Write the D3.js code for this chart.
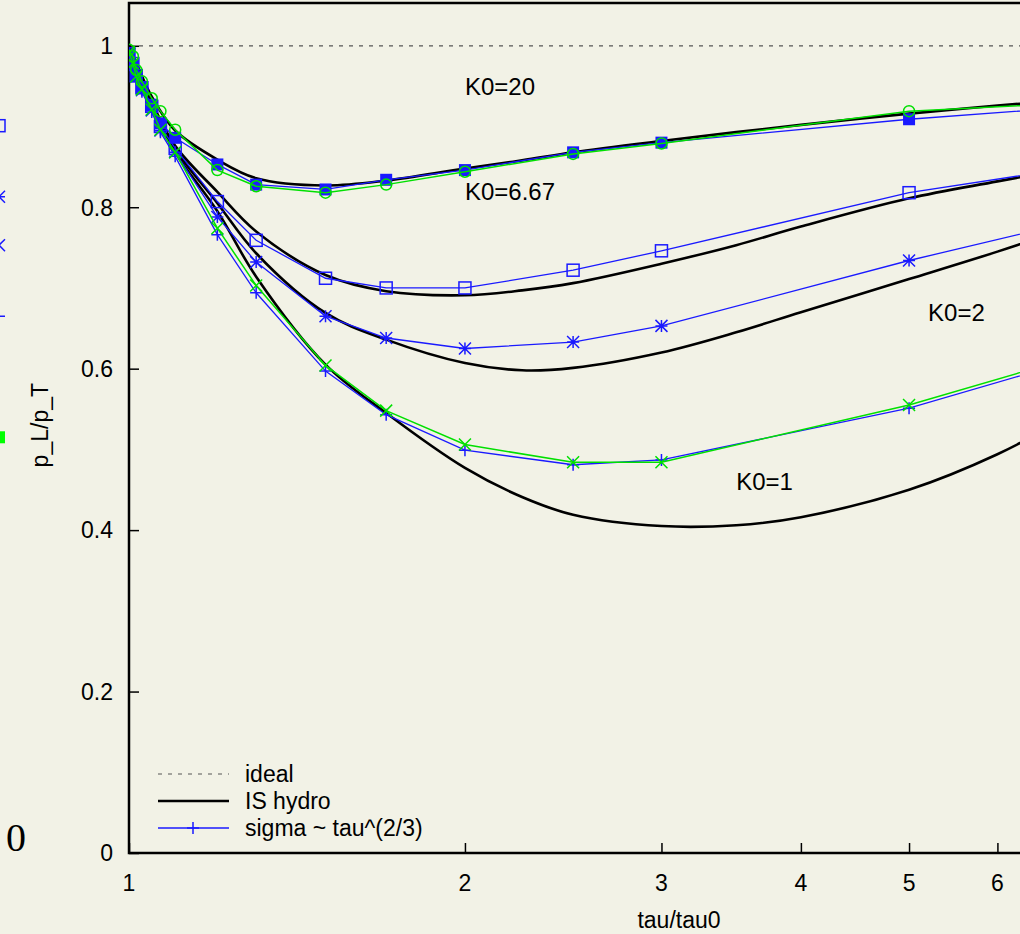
<!DOCTYPE html>
<html>
<head>
<meta charset="utf-8">
<script src="https://cdn.jsdelivr.net/npm/d3@7"></script>
<style>
  html, body { margin: 0; padding: 0; background: #f2f2e6; }
  svg { display: block; font-family: "Liberation Sans", Arial, sans-serif; }
</style>
</head>
<body>
<div id="chart-container"></div>
<script>
{ // start block scope

// tau/tau0 grid of the transport (sigma ~ tau^(2/3)) runs
const tau = [1, 1.008, 1.015, 1.027, 1.048, 1.067, 1.1, 1.2, 1.3, 1.5, 1.7, 2, 2.5, 3, 5, 7];
const sigmaK20 = [0.988, 0.976, 0.962, 0.948, 0.927, 0.904, 0.886, 0.853, 0.828, 0.822, 0.834, 0.846, 0.868, 0.880, 0.909, 0.924];
const sigmaK667 = [0.99, 0.978, 0.963, 0.948, 0.925, 0.90, 0.873, 0.807, 0.759, 0.712, 0.700, 0.700, 0.722, 0.746, 0.818, 0.849];
const sigmaK2 = [0.99, 0.977, 0.962, 0.945, 0.92, 0.895, 0.868, 0.788, 0.732, 0.665, 0.638, 0.625, 0.633, 0.653, 0.734, 0.782];
const sigmaK1 = [0.99, 0.975, 0.96, 0.943, 0.918, 0.893, 0.863, 0.766, 0.694, 0.597, 0.543, 0.499, 0.481, 0.487, 0.551, 0.610];
// green runs (same tau grid)
const greenK20 = [0.995, 0.987, 0.970, 0.956, 0.935, 0.919, 0.896, 0.846, 0.826, 0.818, 0.828, 0.844, 0.866, 0.879, 0.919, 0.929];
const greenK1 = [0.992, 0.978, 0.962, 0.946, 0.921, 0.896, 0.868, 0.774, 0.703, 0.604, 0.548, 0.506, 0.484, 0.484, 0.555, 0.614];

// IS hydro curves
const hydroTau = [1, 1.02, 1.05, 1.1, 1.2, 1.3, 1.5, 1.7, 2, 2.25, 2.5, 3, 3.5, 4, 5, 6, 7];
const hydroK20 = [1.0, 0.972, 0.935, 0.895, 0.859, 0.836, 0.827, 0.833, 0.848, 0.858, 0.868, 0.882, 0.893, 0.902, 0.916, 0.926, 0.933];
const hydroK667 = [1.0, 0.968, 0.928, 0.876, 0.819, 0.770, 0.716, 0.696, 0.691, 0.697, 0.706, 0.730, 0.753, 0.776, 0.811, 0.832, 0.849];
const hydroK2 = [1.0, 0.967, 0.926, 0.872, 0.805, 0.743, 0.669, 0.636, 0.607, 0.598, 0.601, 0.620, 0.645, 0.670, 0.711, 0.745, 0.776];
const hydroK1 = [1.0, 0.966, 0.922, 0.868, 0.795, 0.714, 0.605, 0.545, 0.477, 0.441, 0.419, 0.405, 0.406, 0.416, 0.450, 0.494, 0.543];

const xTicks = [1, 2, 3, 4, 5, 6];
const yTicks = [0, 0.2, 0.4, 0.6, 0.8, 1];
const legendLabels = ["ideal", "IS hydro", "sigma ~ tau^(2/3)"];
const curveLabels = [
  { text: "K0=20", tau: 2, y: 0.95 },
  { text: "K0=6.67", tau: 2, y: 0.82 },
  { text: "K0=2", tau: 5.2, y: 0.67 },
  { text: "K0=1", tau: 3.5, y: 0.46 }
];
// stray points of the neighbouring panel, cut at the left border
const neighbourPoints = [
  { y: 0.901, shape: "openSquare", color: "blue" },
  { y: 0.813, shape: "star", color: "blue" },
  { y: 0.753, shape: "cross", color: "blue" },
  { y: 0.665, shape: "plus", color: "blue" },
  { y: 0.515, shape: "filledSquare", color: "green" }
];

const color = {
  bg: "#f2f2e6",
  blue: "#1a1aff",
  green: "#00e000",
  black: "#000000",
  grey: "#555555"
};

const totalWidth = 1020;
const totalHeight = 934;
const plot = { left: 129, top: 3, bottom: 853, right: 1245 };

const svg = d3.select('#chart-container')
  .append('svg')
  .attr('width', totalWidth)
  .attr('height', totalHeight)
  .style('background', color.bg);

// scales
const xScale = d3.scaleLog()
  .domain([1, 10])
  .range([plot.left, plot.right]);
const yScale = d3.scaleLinear()
  .domain([0, 1.053])
  .range([plot.bottom, plot.top]);

svg.append('clipPath')
  .attr('id', 'plot-clip')
  .append('rect')
  .attr('x', plot.left)
  .attr('y', plot.top)
  .attr('width', plot.right - plot.left)
  .attr('height', plot.bottom - plot.top);

// axes, ticks pointing inwards
const xAxis = d3.axisTop(xScale)
  .tickValues(xTicks)
  .tickSize(10)
  .tickSizeOuter(0)
  .tickFormat('');
const xAxisGroup = svg.append('g')
  .attr('transform', `translate(0, ${plot.bottom})`)
  .call(xAxis);
xAxisGroup.selectAll('.tick line').attr('stroke-width', 1.5);
xAxisGroup.select('.domain').remove();

svg.append('g')
  .selectAll('text')
  .data(xTicks)
  .enter()
  .append('text')
  .attr('x', d => xScale(d))
  .attr('y', plot.bottom + 38)
  .attr('text-anchor', 'middle')
  .attr('font-size', 23)
  .text(d => d);

const yAxis = d3.axisRight(yScale)
  .tickValues(yTicks)
  .tickSize(10)
  .tickSizeOuter(0)
  .tickFormat('');
const yAxisGroup = svg.append('g')
  .attr('transform', `translate(${plot.left}, 0)`)
  .call(yAxis);
yAxisGroup.selectAll('.tick line').attr('stroke-width', 1.5);
yAxisGroup.select('.domain').remove();

svg.append('g')
  .selectAll('text')
  .data(yTicks)
  .enter()
  .append('text')
  .attr('x', plot.left - 16)
  .attr('y', d => yScale(d))
  .attr('dy', '0.36em')
  .attr('text-anchor', 'end')
  .attr('font-size', 23)
  .text(d => d3.format('')(d));

// frame
svg.append('path')
  .attr('d', `M${plot.right},${plot.top}H${plot.left}V${plot.bottom}H${plot.right}`)
  .attr('fill', 'none')
  .attr('stroke', color.black)
  .attr('stroke-width', 2.5);

// axis titles
svg.append('text')
  .attr('x', 679)
  .attr('y', 928)
  .attr('text-anchor', 'middle')
  .attr('font-size', 23)
  .text('tau/tau0');
svg.append('text')
  .attr('transform', `translate(48, ${yScale(0.53)}) rotate(-90)`)
  .attr('text-anchor', 'middle')
  .attr('font-size', 23)
  .text('p_L/p_T');

const g = svg.append('g')
  .attr('clip-path', 'url(#plot-clip)');

// ideal
g.append('line')
  .attr('x1', plot.left)
  .attr('x2', plot.right)
  .attr('y1', yScale(1))
  .attr('y2', yScale(1))
  .attr('stroke', color.grey)
  .attr('stroke-width', 1.2)
  .attr('stroke-dasharray', '4,6');

// hydro curves
const hydroLine = d3.line()
  .x((d, i) => xScale(hydroTau[i]))
  .y(d => yScale(d))
  .curve(d3.curveCatmullRom.alpha(0.5));
g.selectAll('.hydro')
  .data([hydroK20, hydroK667, hydroK2, hydroK1])
  .enter()
  .append('path')
  .attr('class', 'hydro')
  .attr('d', hydroLine)
  .attr('fill', 'none')
  .attr('stroke', color.black)
  .attr('stroke-width', 2.6);

// marker shapes
function marker(sel, shape, c) {
  const s = 6;
  if (shape === 'filledSquare') {
    sel.append('rect').attr('x', -s).attr('y', -s).attr('width', 2 * s).attr('height', 2 * s)
      .attr('fill', c);
  } else if (shape === 'openSquare') {
    sel.append('rect').attr('x', -s).attr('y', -s).attr('width', 2 * s).attr('height', 2 * s)
      .attr('fill', 'none').attr('stroke', c).attr('stroke-width', 1.5);
  } else if (shape === 'circle') {
    sel.append('circle').attr('r', 5.5)
      .attr('fill', 'none').attr('stroke', c).attr('stroke-width', 1.5);
  } else {
    let d = '';
    if (shape === 'plus' || shape === 'star') d += `M${-s},0H${s}M0,${-s}V${s}`;
    if (shape === 'cross' || shape === 'star') d += `M${-s},${-s}L${s},${s}M${-s},${s}L${s},${-s}`;
    sel.append('path').attr('d', d).attr('fill', 'none').attr('stroke', c).attr('stroke-width', 1.5);
  }
}

const series = [
  { values: sigmaK20, color: color.blue, shape: 'filledSquare', width: 1.3 },
  { values: sigmaK667, color: color.blue, shape: 'openSquare', width: 1.3 },
  { values: sigmaK2, color: color.blue, shape: 'star', width: 1.3 },
  { values: sigmaK1, color: color.blue, shape: 'plus', width: 1.3 },
  { values: greenK20, color: color.green, shape: 'circle', width: 1.5 },
  { values: greenK1, color: color.green, shape: 'cross', width: 1.5 }
];

const sigmaLine = d3.line()
  .x((d, i) => xScale(tau[i]))
  .y(d => yScale(d));

series.forEach(s => {
  g.append('path')
    .attr('d', sigmaLine(s.values))
    .attr('fill', 'none')
    .attr('stroke', s.color)
    .attr('stroke-width', s.width);
  g.selectAll(null)
    .data(s.values)
    .enter()
    .append('g')
    .attr('transform', (d, i) => `translate(${xScale(tau[i])}, ${yScale(d)})`)
    .each(function () { marker(d3.select(this), s.shape, s.color); });
});

// curve labels
svg.append('g')
  .selectAll('text')
  .data(curveLabels)
  .enter()
  .append('text')
  .attr('x', d => xScale(d.tau))
  .attr('y', d => yScale(d.y))
  .attr('dy', '0.36em')
  .attr('font-size', 24)
  .text(d => d.text);

// legend
const legend = svg.append('g').attr('id', 'legend');
const legendY = [774, 801, 828];
legend.append('line')
  .attr('x1', 158).attr('x2', 229).attr('y1', legendY[0]).attr('y2', legendY[0])
  .attr('stroke', color.grey).attr('stroke-width', 1.2).attr('stroke-dasharray', '4,6');
legend.append('line')
  .attr('x1', 158).attr('x2', 229).attr('y1', legendY[1]).attr('y2', legendY[1])
  .attr('stroke', color.black).attr('stroke-width', 2.6);
legend.append('line')
  .attr('x1', 158).attr('x2', 229).attr('y1', legendY[2]).attr('y2', legendY[2])
  .attr('stroke', color.blue).attr('stroke-width', 1.3);
legend.append('g')
  .attr('transform', `translate(193, ${legendY[2]})`)
  .call(sel => marker(sel, 'plus', color.blue));
legend.selectAll('text')
  .data(legendLabels)
  .enter()
  .append('text')
  .attr('x', 245)
  .attr('y', (d, i) => legendY[i])
  .attr('dy', '0.36em')
  .attr('font-size', 23)
  .text(d => d);

// neighbouring panel fragment on the far left
const edge = svg.append('g');
neighbourPoints.forEach(p => {
  edge.append('g')
    .attr('transform', `translate(-1, ${yScale(p.y)})`)
    .call(sel => marker(sel, p.shape, p.color === 'blue' ? color.blue : '#00ff00'));
});
edge.append('text')
  .attr('x', 16)
  .attr('y', yScale(0.02))
  .attr('dy', '0.36em')
  .attr('text-anchor', 'middle')
  .attr('font-family', '"Liberation Serif", "DejaVu Serif", serif')
  .attr('font-size', 40)
  .text('0');

} // end block scope
</script>
</body>
</html>
